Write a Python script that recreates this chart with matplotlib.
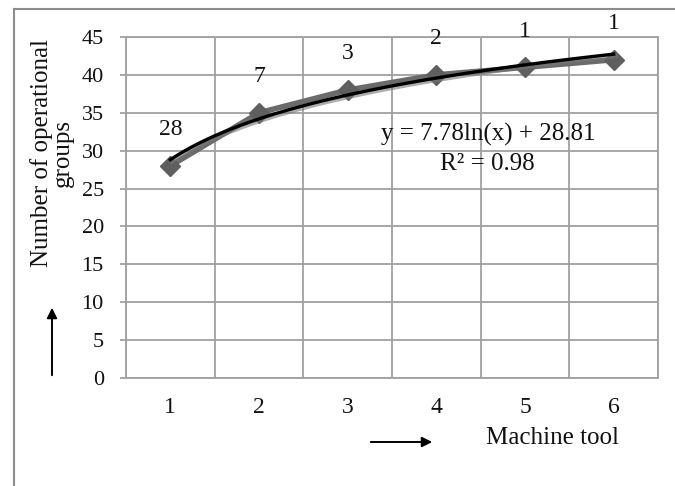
import numpy as np
import matplotlib
matplotlib.use("Agg")
import matplotlib.pyplot as plt
from matplotlib.lines import Line2D

plt.rcParams['font.family'] = ['Liberation Serif', 'DejaVu Serif']

# data
machines = [1, 2, 3, 4, 5, 6]
groups = [28, 35, 38, 40, 41, 42]
increments = ['28', '7', '3', '2', '1', '1']
y_ticks = [0, 5, 10, 15, 20, 25, 30, 35, 40, 45]

grid_col = '#a0a0a0'
txt_col = '#111111'

fig = plt.figure(figsize=(6.75, 4.86), dpi=100)
ax = fig.add_axes([126 / 675, 1 - 378 / 486, 532 / 675, 341 / 486])

# grid: horizontal at each tick, vertical between categories
for yv in y_ticks:
    ax.axhline(yv, color=grid_col, lw=1.3, zorder=0)
for xv in np.arange(0.5, 7, 1):
    ax.axvline(xv, color=grid_col, lw=1.3, zorder=0)

# series (gray diamonds) and log trendline
ax.plot(machines, groups, color='#6b6b6b', lw=4, marker='D', ms=10,
        mfc='#5f5f5f', mec='#5f5f5f', zorder=3, solid_capstyle='round')

x = np.array(machines, dtype=float)
k, b = np.polyfit(np.log(x), groups, 1)
xs = np.linspace(1, 6, 200)
shadow = ax.transData + matplotlib.transforms.ScaledTranslation(1.5 / 100, -1.5 / 100, fig.dpi_scale_trans)
ax.plot(xs, k * np.log(xs) + b, color='#777777', lw=3.5, alpha=0.6, zorder=4, transform=shadow)
ax.plot(xs, k * np.log(xs) + b, color='black', lw=2.4, zorder=5)

# labels above points
for xi, yi, lab in zip(machines, groups, increments):
    ax.annotate(lab, (xi, yi), xytext=(0, 26), textcoords='offset points',
                ha='center', va='center', fontsize=17, color=txt_col,
                annotation_clip=False)

ax.text(4.58, 32.1, 'y = 7.78ln(x) + 28.81', ha='center', va='center', fontsize=18, color=txt_col)
ax.text(4.58, 28.3, 'R² = 0.98', ha='center', va='center', fontsize=18, color=txt_col)

ax.set_xlim(0.5, 6.5)
ax.set_ylim(0, 45)
ax.set_xticks(machines)
ax.set_xticklabels([str(m) for m in machines], fontsize=17)
ax.set_yticks(y_ticks)
ax.set_yticklabels([str(t) for t in y_ticks], fontsize=16)
ax.tick_params(axis='x', length=0, pad=14, colors=txt_col)
ax.tick_params(axis='y', length=4, width=1.3, color=grid_col, pad=12, labelcolor=txt_col)
for sp in ax.spines.values():
    sp.set_color(grid_col)
    sp.set_linewidth(1.3)

# axis titles and arrows
fig.text(52 / 675, 1 - 153 / 486, 'Number of operational\ngroups', rotation=90,
         ha='center', va='center', fontsize=18, color=txt_col, linespacing=0.95)
fig.text(552 / 675, 1 - 438 / 486, 'Machine tool', ha='center', va='center',
         fontsize=18, color=txt_col)
fig.patches.append(matplotlib.patches.FancyArrowPatch(
    (52 / 675, 1 - 378 / 486), (52 / 675, 1 - 305 / 486), transform=fig.transFigure,
    arrowstyle='-|>', mutation_scale=15, color='black', lw=1.4))
fig.patches.append(matplotlib.patches.FancyArrowPatch(
    (368 / 675, 1 - 442 / 486), (435 / 675, 1 - 442 / 486), transform=fig.transFigure,
    arrowstyle='-|>', mutation_scale=15, color='black', lw=1.4))

# outer frame (left and top only)
fig.lines.append(Line2D([14 / 675, 14 / 675], [0, 1 - 9 / 486], transform=fig.transFigure,
                        color='#8c8c8c', lw=1.5))
fig.lines.append(Line2D([14 / 675, 1], [1 - 9 / 486, 1 - 9 / 486], transform=fig.transFigure,
                        color='#8c8c8c', lw=1.5))

fig.savefig('out.png', dpi=100)
